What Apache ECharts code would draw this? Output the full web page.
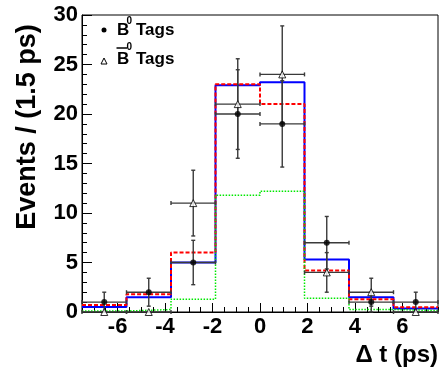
<!DOCTYPE html>
<html>
<head>
<meta charset="utf-8">
<script src="https://cdn.jsdelivr.net/npm/echarts@6/dist/echarts.min.js"></script>
<style>
  html, body { margin: 0; padding: 0; background: #fff; }
  #chart { width: 439px; height: 371px; }
</style>
</head>
<body>
<div id="chart"></div>
<script>
// Bin edges of the Δt histogram (ps)
const binEdges = [-7.5, -5.625, -3.75, -1.875, 0, 1.875, 3.75, 5.625, 7.5];
// Bin centres where the data points sit
const binCenters = [-6.5625, -4.6875, -2.8125, -0.9375, 0.9375, 2.8125, 4.6875, 6.5625];
const binHalfWidth = 0.9375;

// Fit projections per bin
const modelSolid  = [0.5, 1.5, 5.0, 22.9, 23.2, 5.3, 1.5, 0.35];
const modelDashed = [0.7, 1.8, 6.0, 23.0, 21.0, 4.2, 1.3, 0.47];
const modelDotted = [0.1, 0.25, 1.3, 11.8, 12.2, 1.4, 0.25, 0.15];

// Observed events: B0 tags (filled circles) and B0bar tags (open triangles)
const b0Counts    = [1, 2, 5, 20, 19, 7, 1, 1];
const b0Errors    = [1, 1.41, 2.24, 4.47, 4.36, 2.65, 1, 1];
const b0barCounts = [0, 0, 11, 21, 24, 4, 2, 0];
const b0barErrors = [0, 0, 3.32, 4.58, 4.90, 2, 1.41, 0];

// Axis ticks
const xMajorTicks = [-6, -4, -2, 0, 2, 4, 6];
const xMinorTicks = [];
for (let v = -7.5; v <= 7.5; v += 0.5) {
  if (!xMajorTicks.includes(v)) xMinorTicks.push(v);
}

const tickFont = "'Liberation Sans Narrow', 'Liberation Sans', Arial, sans-serif";
const textFont = "'Liberation Sans', Arial, sans-serif";

function stepData(values) {
  const pts = binEdges.slice(0, -1).map((e, i) => [e, values[i]]);
  pts.push([binEdges[binEdges.length - 1], values[values.length - 1]]);
  return pts;
}

function pointData(counts, errors) {
  return binCenters.map((c, i) => [c, counts[i], errors[i]]);
}

function renderErrorBar(params, api) {
  const x = api.value(0), y = api.value(1), e = api.value(2);
  const c = api.coord([x, y]);
  const left = api.coord([x - binHalfWidth, y]);
  const right = api.coord([x + binHalfWidth, y]);
  const style = { stroke: '#3a3a3a', lineWidth: 1.4 };
  const cap = 2;
  const children = [
    { type: 'line', shape: { x1: left[0], y1: c[1], x2: right[0], y2: c[1] }, style },
    { type: 'line', shape: { x1: left[0], y1: c[1] - cap, x2: left[0], y2: c[1] + cap }, style },
    { type: 'line', shape: { x1: right[0], y1: c[1] - cap, x2: right[0], y2: c[1] + cap }, style }
  ];
  if (e > 0) {
    const top = api.coord([x, y + e]);
    const bot = api.coord([x, y - e]);
    children.push(
      { type: 'line', shape: { x1: c[0], y1: top[1], x2: c[0], y2: bot[1] }, style },
      { type: 'line', shape: { x1: c[0] - cap, y1: top[1], x2: c[0] + cap, y2: top[1] }, style },
      { type: 'line', shape: { x1: c[0] - cap, y1: bot[1], x2: c[0] + cap, y2: bot[1] }, style }
    );
  }
  return { type: 'group', children };
}

const chart = echarts.init(document.getElementById('chart'), null, { renderer: 'canvas' });

chart.setOption({
  animation: false,
  backgroundColor: '#ffffff',
  grid: {
    left: 82, right: 1, top: 15, bottom: 59,
    show: true, borderColor: '#000', borderWidth: 1, backgroundColor: 'transparent',
    containLabel: false, outerBoundsMode: 'none'
  },
  xAxis: [
    {
      type: 'value', min: -7.5, max: 7.5,
      axisLine: { show: true, onZero: false, lineStyle: { color: '#000', width: 1 } },
      axisTick: { show: true, inside: true, length: 9, customValues: xMajorTicks, lineStyle: { color: '#000', width: 1 } },
      axisLabel: {
        show: true, customValues: xMajorTicks, margin: 4,
        color: '#000', fontSize: 22, fontWeight: 'bold', fontFamily: tickFont,
        formatter: v => String(v)
      },
      splitLine: { show: false }
    },
    {
      type: 'value', min: -7.5, max: 7.5, position: 'bottom',
      axisLine: { show: false, onZero: false },
      axisTick: { show: true, inside: true, length: 5, customValues: xMinorTicks, lineStyle: { color: '#000', width: 1 } },
      axisLabel: { show: false },
      splitLine: { show: false }
    }
  ],
  yAxis: {
    type: 'value', min: 0, max: 30, interval: 5,
    axisLine: { show: true, onZero: false, lineStyle: { color: '#000', width: 1 } },
    axisTick: { show: true, inside: true, length: 10, lineStyle: { color: '#000', width: 1 } },
    minorTick: { show: true, splitNumber: 5, length: 5, lineStyle: { color: '#000', width: 1 } },
    axisLabel: {
      margin: 4, color: '#000', fontSize: 22, fontWeight: 'bold', fontFamily: tickFont
    },
    splitLine: { show: false }
  },
  series: [
    {
      type: 'line', step: 'end', data: stepData(modelSolid), symbol: 'none', z: 2,
      lineStyle: { color: '#0000ff', width: 2 }
    },
    {
      type: 'line', step: 'end', data: stepData(modelDashed), symbol: 'none', z: 3,
      lineStyle: { color: '#ff0000', width: 2, type: [4, 2] }
    },
    {
      type: 'line', step: 'end', data: stepData(modelDotted), symbol: 'none', z: 4,
      lineStyle: { color: '#00e800', width: 1.5, type: [1.5, 1.5] }
    },
    {
      type: 'custom', renderItem: renderErrorBar, data: pointData(b0Counts, b0Errors), z: 5,
      encode: { x: 0, y: 1 }, clip: false
    },
    {
      type: 'custom', renderItem: renderErrorBar, data: pointData(b0barCounts, b0barErrors), z: 5,
      encode: { x: 0, y: 1 }, clip: false
    },
    {
      type: 'scatter', data: pointData(b0Counts, b0Errors), symbol: 'circle', symbolSize: 6, z: 6,
      itemStyle: { color: '#000' }
    },
    {
      type: 'scatter', data: pointData(b0barCounts, b0barErrors), symbol: 'triangle', symbolSize: 7, z: 6,
      itemStyle: { color: '#fff', borderColor: '#000', borderWidth: 1 }
    }
  ],
  graphic: [
    // legend
    { type: 'circle', shape: { cx: 104, cy: 30, r: 2.5 }, style: { fill: '#000' }, z: 10 },
    { type: 'text', x: 117, y: 30, z: 10, style: { text: 'B', font: 'bold 17px ' + textFont, fill: '#000', verticalAlign: 'middle' } },
    { type: 'text', x: 126.5, y: 21, z: 10, style: { text: '0', font: 'bold 10px ' + textFont, fill: '#000', verticalAlign: 'middle' } },
    { type: 'text', x: 136, y: 30, z: 10, style: { text: 'Tags', font: 'bold 17px ' + textFont, fill: '#000', verticalAlign: 'middle' } },
    { type: 'polygon', shape: { points: [[101, 64], [107, 64], [104, 58]] }, style: { fill: '#fff', stroke: '#000', lineWidth: 1 }, z: 10 },
    { type: 'text', x: 117, y: 59.5, z: 10, style: { text: 'B', font: 'bold 17px ' + textFont, fill: '#000', verticalAlign: 'middle' } },
    { type: 'line', shape: { x1: 116.5, y1: 48, x2: 127, y2: 48 }, style: { stroke: '#000', lineWidth: 1.5 }, z: 10 },
    { type: 'text', x: 126.5, y: 47, z: 10, style: { text: '0', font: 'bold 10px ' + textFont, fill: '#000', verticalAlign: 'middle' } },
    { type: 'text', x: 136, y: 59.5, z: 10, style: { text: 'Tags', font: 'bold 17px ' + textFont, fill: '#000', verticalAlign: 'middle' } },
    // axis titles
    { type: 'text', x: 28, y: 127, rotation: Math.PI / 2, z: 10,
      style: { text: 'Events / (1.5 ps)', font: 'bold 27px ' + textFont, fill: '#000', align: 'center', verticalAlign: 'middle' } },
    { type: 'text', x: 438, y: 355, z: 10,
      style: { text: 'Δ t (ps)', font: 'bold 24px ' + textFont, fill: '#000', align: 'right', verticalAlign: 'middle' } }
  ]
});
</script>
</body>
</html>
